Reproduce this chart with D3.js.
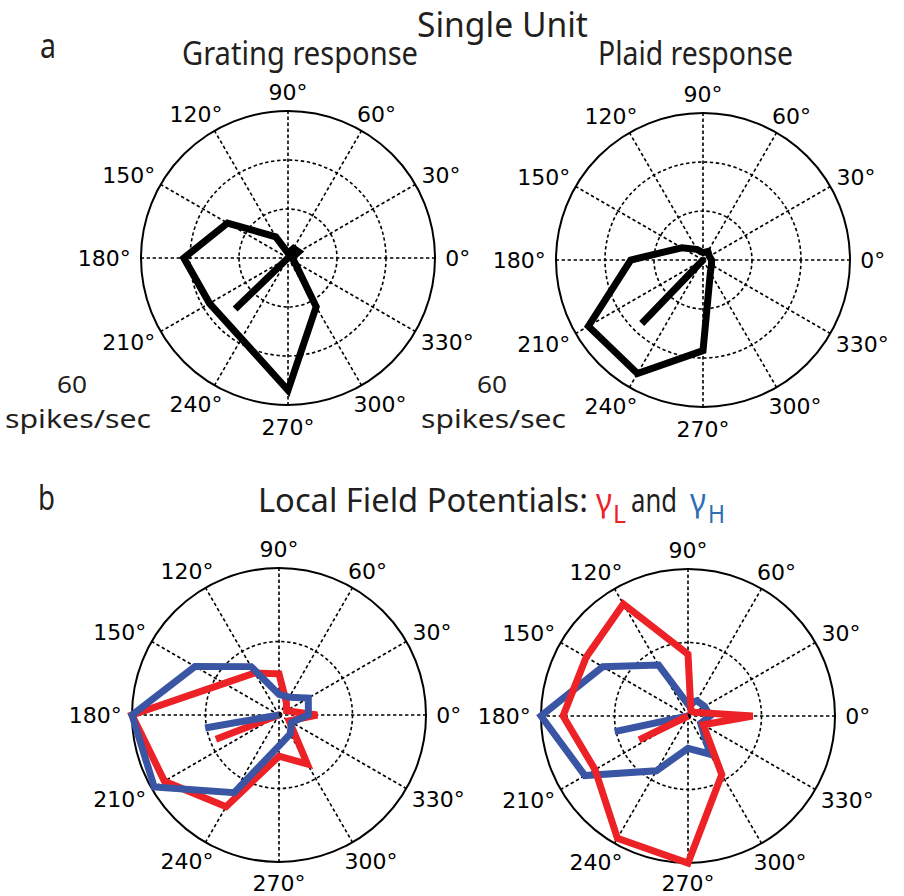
<!DOCTYPE html>
<html>
<head>
<meta charset="utf-8">
<script src="https://cdn.jsdelivr.net/npm/d3@7"></script>
<style>
  body { margin: 0; background: #fff; }
  svg { display: block; }
</style>
</head>
<body>
<div id="chart"></div>
<script>
// Directions (degrees) and responses
const angles = [0, 30, 60, 90, 120, 150, 180, 210, 240, 270, 300, 330];
const angleTicks = [0, 30, 60, 90, 120, 150, 180, 210, 240, 270, 300, 330];

// a: single unit, spikes/sec
const gratingRate = [1.5, 5, 4.5, 2, 10, 28.5, 42.5, 37, 38, 54, 23, 3];
const plaidRate = [3.5, 3, 4, 3, 5, 10, 29.5, 54, 53.5, 37, 6, 4];
const gratingRateMean = [224, 30];
const plaidRateMean = [226, 36];
const rateRings = [20, 40, 60];

// b: LFP gamma power, normalised
const gratingGammaL = [0.26, 0.06, 0.1, 0.28, 0.33, 0.43, 1.0, 0.9, 0.72, 0.28, 0.385, 0.08];
const gratingGammaH = [0.2, 0.23, 0.14, 0.14, 0.38, 0.66, 1.0, 0.98, 0.61, 0.21, 0.15, 0.1];
const plaidGammaL = [0.44, 0.05, 0.04, 0.42, 0.88, 0.8, 0.85, 0.73, 0.96, 1.0, 0.46, 0.12];
const plaidGammaH = [0.15, 0.13, 0.12, 0.08, 0.4, 0.67, 1.0, 0.81, 0.43, 0.22, 0.3, 0.1];
const gratingGammaLMean = [201, 0.46];
const gratingGammaHMean = [190, 0.51];
const plaidGammaLMean = [206, 0.37];
const plaidGammaHMean = [192, 0.51];
const gammaRings = [0.5, 1];

const red = "#ec2227";
const blue = "#3b55a5";
const titleFont = "'Noto Sans', 'Open Sans', sans-serif";
const labelFont = "'DejaVu Sans', Verdana, sans-serif";

const svg = d3.select("#chart").append("svg")
    .attr("width", 904)
    .attr("height", 896);

const R = 147;

const panels = [
    { cx: 288, cy: 258, rings: rateRings,
      series: [{ values: gratingRate, mean: gratingRateMean, color: "#000" }] },
    { cx: 703, cy: 260, rings: rateRings,
      series: [{ values: plaidRate, mean: plaidRateMean, color: "#000" }] },
    { cx: 279, cy: 715, rings: gammaRings,
      series: [{ values: gratingGammaL, mean: gratingGammaLMean, color: red },
               { values: gratingGammaH, mean: gratingGammaHMean, color: blue }] },
    { cx: 688, cy: 716, rings: gammaRings,
      series: [{ values: plaidGammaH, mean: plaidGammaHMean, color: blue },
               { values: plaidGammaL, mean: plaidGammaLMean, color: red }] }
];

// math angle (ccw from east) -> d3 radial angle (cw from north)
const angleScale = d3.scaleLinear().domain([0, 360]).range([Math.PI / 2, Math.PI / 2 - 2 * Math.PI]);

panels.forEach(p => {
    const rMax = d3.max(p.rings);
    const rScale = d3.scaleLinear().domain([0, rMax]).range([0, R]);
    const g = svg.append("g").attr("transform", `translate(${p.cx},${p.cy})`);

    const radial = d3.lineRadial()
        .angle(d => angleScale(d[0]))
        .radius(d => rScale(d[1]));

    // dashed rings
    g.selectAll(".ring")
        .data(p.rings.slice(0, -1))
        .enter().append("circle")
        .attr("r", d => rScale(d))
        .attr("fill", "none")
        .attr("stroke", "#000")
        .attr("stroke-width", 1.6)
        .attr("stroke-dasharray", "3.4,2.6");

    // spokes
    g.selectAll(".spoke")
        .data(angleTicks)
        .enter().append("path")
        .attr("d", a => radial([[a, 0], [a, rMax]]))
        .attr("stroke", "#000")
        .attr("stroke-width", 1.6)
        .attr("stroke-dasharray", "3.4,2.6");

    // outer circle
    g.append("circle")
        .attr("r", rScale(rMax))
        .attr("fill", "none")
        .attr("stroke", "#000")
        .attr("stroke-width", 2);

    // angle labels, placed just outside the rim
    angleTicks.forEach(a => {
        const t = g.append("text")
            .attr("font-family", labelFont)
            .attr("font-size", 22)
            .attr("fill", "#000")
            .attr("text-anchor", "middle")
            .attr("dominant-baseline", "central")
            .text(a + "°");
        const bb = t.node().getBBox();
        const th = a * Math.PI / 180;
        const c = Math.cos(th), s = Math.sin(th);
        const x = 1.07 * R * c + c * bb.width / 2;
        let y = -1.07 * R * s - s * 8;
        if (s < 0) y += -s * 4;
        y = Math.min(y, 896 - p.cy - bb.height / 2);
        t.attr("x", x).attr("y", y);
    });

    // data polygons and mean vectors
    p.series.forEach(sr => {
        const pts = angles.map((a, i) => [a, sr.values[i]]);
        g.append("path")
            .attr("d", radial.curve(d3.curveLinearClosed)(pts))
            .attr("fill", "none")
            .attr("stroke", sr.color)
            .attr("stroke-width", 7)
            .attr("stroke-linejoin", "miter")
            .attr("stroke-miterlimit", 3);
        g.append("path")
            .attr("d", radial.curve(d3.curveLinear)([[sr.mean[0], 0], sr.mean]))
            .attr("fill", "none")
            .attr("stroke", sr.color)
            .attr("stroke-width", 7);
    });
});

// texts
function label(txt, x, y, size, len, color) {
    const t = svg.append("text")
        .attr("x", x).attr("y", y)
        .attr("font-family", titleFont)
        .attr("font-size", size)
        .attr("fill", color || "#231f20")
        .text(txt);
    if (len) t.attr("textLength", len).attr("lengthAdjust", "spacingAndGlyphs");
    return t;
}

label("a", 40, 58, 34, 16);
label("Single Unit", 417, 37, 34, 171);
label("Grating  response", 182, 65, 32, 236);
label("Plaid response", 598, 65, 32, 195);
label("60", 57, 393, 23, 30);
label("spikes/sec", 5, 428, 25, 146);
label("60", 477, 393, 23, 30);
label("spikes/sec", 421, 428, 25, 145);

label("b", 38, 510, 34, 17);
label("Local Field Potentials:", 258, 512, 33, 330);
label("γ", 596, 512, 33, 16, red);
label("L", 613, 523, 26, 13, red);
label("and", 631, 512, 33, 46);
label("γ", 690, 512, 33, 16, "#2f6db4");
label("H", 708, 523, 26, 17, "#2f6db4");
</script>
</body>
</html>
